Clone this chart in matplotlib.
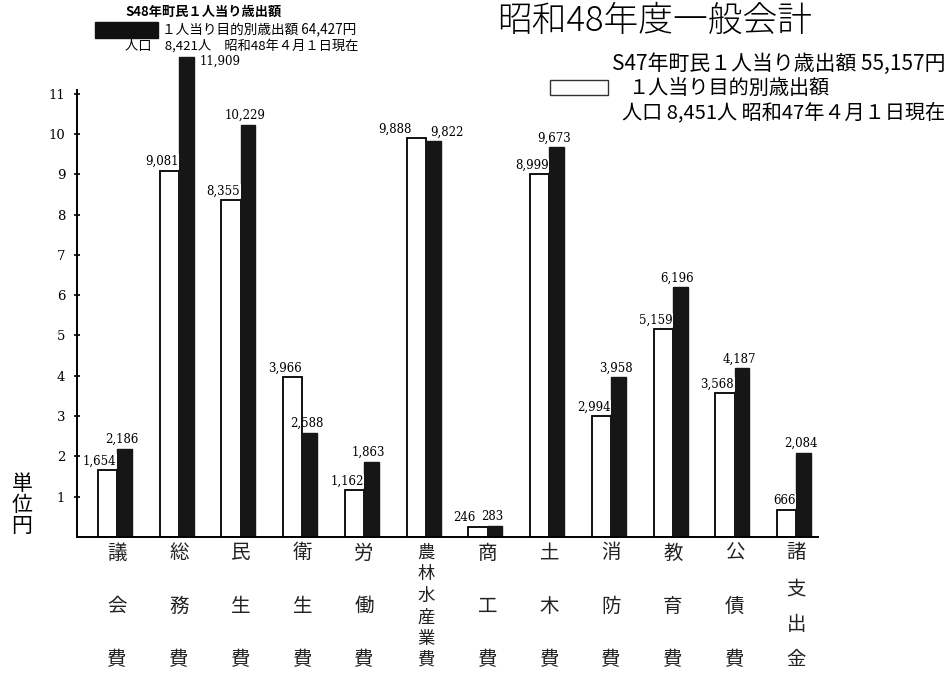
import matplotlib
matplotlib.use('Agg')
import matplotlib.pyplot as plt
import numpy as np

plt.rcParams['font.family'] = ['Noto Sans CJK JP', 'DejaVu Sans']

# 目的別 1人当り歳出額 (円)
categories = ['議会費', '総務費', '民生費', '衛生費', '労働費', '農林水産業費',
              '商工費', '土木費', '消防費', '教育費', '公債費', '諸支出金']
s47 = [1654, 9081, 8355, 3966, 1162, 9888, 246, 8999, 2994, 5159, 3568, 666]
s48 = [2186, 11909, 10229, 2588, 1863, 9822, 283, 9673, 3958, 6196, 4187, 2084]
yticks = list(range(1, 12))

W, H = 949, 673
fig = plt.figure(figsize=(W / 100, H / 100), dpi=100)
ax = fig.add_axes([77 / W, 1 - 537 / H, (818 - 77) / W, (537 - 40) / H])

x = np.arange(len(categories))
ww, bw = 0.31, 0.24
a = np.array(s47) / 1000
b = np.array(s48) / 1000
ax.bar(x - ww / 2, a, width=ww, color='white', edgecolor='black', linewidth=1.3, zorder=2)
ax.bar(x + bw / 2, b, width=bw, color='#161616', edgecolor='#161616', linewidth=1, zorder=2)

ax.set_xlim(-0.65, 11.35)
ax.set_ylim(0, 12.33)
ax.set_yticks(yticks)
ax.set_yticklabels([str(t) for t in yticks], family='DejaVu Serif', fontsize=9.5)
ax.tick_params(axis='y', direction='inout', length=5, width=1.2, pad=6)
ax.set_xticks([])
for s in ['top', 'right']:
    ax.spines[s].set_visible(False)
ax.spines['left'].set_bounds(0, 11.1)
ax.spines['left'].set_linewidth(1.4)
ax.spines['bottom'].set_linewidth(1.4)

numfont = dict(family='DejaVu Serif', fontsize=8.5)
box = dict(facecolor='white', edgecolor='none', pad=0.5)
# 重なりを避けるためのずらし (points)
white_dx = {5: -10, 6: -8}
black_pos = {1: ('left', 4, -8), 5: ('left', -2, 2)}
for i in range(len(categories)):
    ax.annotate(f'{s47[i]:,}', xy=(x[i] - 0.01, a[i]), xytext=(white_dx.get(i, 0), 2),
                textcoords='offset points', ha='right', va='bottom', bbox=box,
                zorder=3, **numfont)
    ha, dx, dy = black_pos.get(i, ('center', -2, 2))
    bx = x[i] + (bw if ha == 'left' and dx > 0 else bw / 2)
    ax.annotate(f'{s48[i]:,}', xy=(bx, b[i]), xytext=(dx, dy), textcoords='offset points',
                ha=ha, va='bottom', zorder=3, **numfont)

# 縦書きの項目名
for i, name in enumerate(categories):
    n = len(name)
    top, bottom = 16, 123  # px below axis
    step = (bottom - top) / (n - 1)
    fs = 14 if n <= 4 else 12.5
    for k, ch in enumerate(name):
        ax.annotate(ch, xy=(x[i], 0), xytext=(0, -(top + k * step) * 0.72),
                    textcoords='offset points', ha='center', va='center',
                    fontsize=fs, color='#222222')

# 単位
fig.text(22 / W, 1 - 505 / H, '単\n位\n円', ha='center', va='center',
         fontsize=15, linespacing=0.95)

# 凡例 (左上: 昭和48年)
fig.text(125 / W, 1 - 12 / H, 'S48年町民１人当り歳出額', fontsize=9.5, weight='bold',
         va='center')
fig.patches.append(plt.Rectangle((95 / W, 1 - 38 / H), 63 / W, 16 / H,
                                 transform=fig.transFigure, color='#111111'))
fig.text(162 / W, 1 - 29 / H, '１人当り目的別歳出額 64,427円', fontsize=9.8, va='center')
fig.text(125 / W, 1 - 46 / H, '人口　8,421人　昭和48年４月１日現在', fontsize=9.5, va='center')

# 表題と凡例 (右上: 昭和47年)
fig.text(497 / W, 1 - 21 / H, '昭和48年度一般会計', fontsize=25, va='center', weight='light')
fig.text(945 / W, 1 - 64 / H, 'S47年町民１人当り歳出額 55,157円', fontsize=15,
         ha='right', va='center')
fig.patches.append(plt.Rectangle((550 / W, 1 - 95 / H), 58 / W, 15 / H,
                                 transform=fig.transFigure, facecolor='white',
                                 edgecolor='#333333', linewidth=1))
fig.text(628 / W, 1 - 88 / H, '１人当り目的別歳出額', fontsize=14.5, va='center')
fig.text(945 / W, 1 - 113 / H, '人口 8,451人 昭和47年４月１日現在', fontsize=14.5,
         ha='right', va='center')

fig.savefig('out.png', dpi=100, facecolor='white')
